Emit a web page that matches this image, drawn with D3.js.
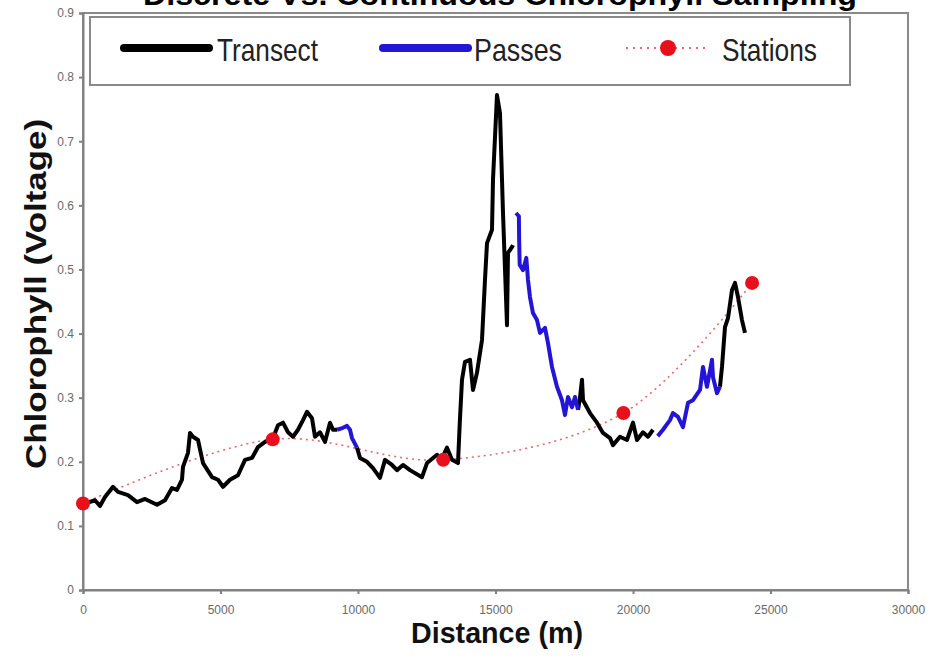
<!DOCTYPE html>
<html>
<head>
<meta charset="utf-8">
<script src="https://cdn.jsdelivr.net/npm/d3@7/dist/d3.min.js"></script>
<style>
  html, body { margin: 0; padding: 0; background: #fff; }
  svg { display: block; font-family: "Liberation Sans", Arial, sans-serif; }
  .tick text { fill: #6a6a6a; font-size: 12px; }
  .tick line, .domain { stroke: #808080; stroke-width: 2px; }
</style>
</head>
<body>
<div id="chart"></div>
<script>
// Chart data: distance (m), chlorophyll (voltage)
const xTicks = [0, 5000, 10000, 15000, 20000, 25000, 30000];
const yTicks = [0, 0.1, 0.2, 0.3, 0.4, 0.5, 0.6, 0.7, 0.8, 0.9];

const transectA = [
  [150, 0.136], [436, 0.140], [618, 0.131], [800, 0.145], [1091, 0.161], [1273, 0.153],
  [1636, 0.148], [1964, 0.137], [2254, 0.142], [2691, 0.133], [2982, 0.140], [3236, 0.159],
  [3418, 0.156], [3600, 0.172], [3636, 0.192], [3818, 0.214], [3891, 0.245], [4000, 0.239],
  [4182, 0.234], [4364, 0.198], [4691, 0.176], [4909, 0.172], [5091, 0.161], [5345, 0.172],
  [5636, 0.179], [5891, 0.203], [6145, 0.206], [6363, 0.223], [6618, 0.231], [6900, 0.236],
  [7091, 0.257], [7273, 0.261], [7454, 0.246], [7636, 0.239], [7818, 0.250], [8000, 0.265],
  [8145, 0.278], [8327, 0.268], [8436, 0.239], [8618, 0.246], [8800, 0.231], [8982, 0.261],
  [9091, 0.250], [9236, 0.250]
];
const passA = [
  [9236, 0.250], [9454, 0.253], [9600, 0.256], [9709, 0.250], [9782, 0.237], [9963, 0.222]
];
const transectB = [
  [9963, 0.222], [10073, 0.206], [10327, 0.200], [10545, 0.190], [10800, 0.175], [10982, 0.203],
  [11236, 0.195], [11418, 0.187], [11636, 0.195], [11891, 0.187], [12327, 0.176], [12509, 0.198],
  [12873, 0.211], [13050, 0.205], [13236, 0.222], [13418, 0.203], [13636, 0.198], [13700, 0.260],
  [13782, 0.328], [13891, 0.356], [14073, 0.359], [14182, 0.312], [14327, 0.339], [14509, 0.390],
  [14618, 0.484], [14691, 0.541], [14873, 0.562], [14909, 0.640], [15054, 0.772], [15163, 0.744],
  [15273, 0.588], [15418, 0.413], [15454, 0.526], [15600, 0.535], [15636, 0.538]
];
const passB = [
  [15745, 0.588], [15850, 0.583], [15860, 0.546], [15880, 0.507], [16000, 0.499], [16120, 0.518],
  [16181, 0.484], [16254, 0.457], [16363, 0.432], [16509, 0.421], [16618, 0.401], [16800, 0.409],
  [16909, 0.385], [17054, 0.348], [17236, 0.317], [17418, 0.296], [17527, 0.273], [17636, 0.301],
  [17782, 0.285], [17891, 0.301], [18000, 0.281]
];
const transectC = [
  [18000, 0.281], [18072, 0.300], [18145, 0.328], [18182, 0.296], [18436, 0.276], [18690, 0.261],
  [18909, 0.245], [19163, 0.237], [19272, 0.226], [19527, 0.239], [19781, 0.234], [20000, 0.261],
  [20145, 0.234], [20363, 0.246], [20545, 0.239], [20727, 0.250]
];
const passC = [
  [20900, 0.240], [21090, 0.250], [21345, 0.265], [21454, 0.276], [21636, 0.270], [21818, 0.254],
  [22000, 0.292], [22181, 0.296], [22436, 0.312], [22545, 0.348], [22690, 0.317], [22872, 0.359],
  [22909, 0.332], [23054, 0.307], [23163, 0.317]
];
const transectD = [
  [23163, 0.317], [23236, 0.348], [23345, 0.410], [23454, 0.424], [23600, 0.468], [23709, 0.479],
  [23818, 0.457], [23963, 0.421], [24072, 0.401]
];
const stations = [[0, 0.135], [6900, 0.235], [13100, 0.203], [19650, 0.276], [24330, 0.479]];

const legendItems = ['Transect', 'Passes', 'Stations'];

// Layout
const W = 934, H = 661;
const margin = { top: 13, right: 26, bottom: 71, left: 83 };
const innerW = W - margin.left - margin.right;
const innerH = H - margin.top - margin.bottom;

const svg = d3.select('#chart').append('svg')
  .attr('width', W)
  .attr('height', H);

const x = d3.scaleLinear().domain([0, 30000]).range([0, innerW]);
const y = d3.scaleLinear().domain([0, 0.9]).range([innerH, 0]);

// Title (runs off the top edge, like the original)
svg.append('text')
  .attr('x', 500).attr('y', 5)
  .attr('text-anchor', 'middle')
  .attr('font-weight', 'bold')
  .attr('font-size', 30)
  .attr('textLength', 714)
  .attr('lengthAdjust', 'spacingAndGlyphs')
  .text('Discrete Vs. Continuous Chlorophyll Sampling');

const g = svg.append('g').attr('transform', `translate(${margin.left},${margin.top})`);

// Frame
g.append('rect')
  .attr('width', innerW).attr('height', innerH)
  .attr('fill', 'none')
  .attr('stroke', '#8a8a8a')
  .attr('stroke-width', 2);

// Axes
g.append('g')
  .attr('transform', `translate(0,${innerH})`)
  .call(d3.axisBottom(x).tickValues(xTicks).tickSize(4).tickPadding(11).tickFormat(d3.format('d')));

g.append('g')
  .call(d3.axisLeft(y).tickValues(yTicks).tickSize(4).tickPadding(5).tickFormat(d => d === 0 ? '0' : d3.format('.1f')(d)));

// Axis titles
svg.append('text')
  .attr('x', 497).attr('y', 643)
  .attr('text-anchor', 'middle')
  .attr('font-weight', 'bold')
  .attr('font-size', 29)
  .attr('fill', '#111')
  .attr('textLength', 172)
  .attr('lengthAdjust', 'spacingAndGlyphs')
  .text('Distance (m)');

svg.append('text')
  .attr('transform', 'translate(46,294) rotate(-90)')
  .attr('text-anchor', 'middle')
  .attr('font-weight', 'bold')
  .attr('font-size', 30)
  .attr('fill', '#111')
  .attr('textLength', 350)
  .attr('lengthAdjust', 'spacingAndGlyphs')
  .text('Chlorophyll (Voltage)');

// Lines
const line = d3.line().x(d => x(d[0])).y(d => y(d[1]));
const stationLine = d3.line().x(d => x(d[0])).y(d => y(d[1])).curve(d3.curveCatmullRom.alpha(0.5));

g.append('path')
  .datum(stations)
  .attr('d', stationLine)
  .attr('fill', 'none')
  .attr('stroke', '#e26a74')
  .attr('stroke-width', 1.6)
  .attr('stroke-dasharray', '2,4');

[transectA, transectB, transectC, transectD].forEach(seg => {
  g.append('path')
    .datum(seg)
    .attr('d', line)
    .attr('fill', 'none')
    .attr('stroke', '#000')
    .attr('stroke-width', 4)
    .attr('stroke-linejoin', 'round');
});

[passA, passB, passC].forEach(seg => {
  g.append('path')
    .datum(seg)
    .attr('d', line)
    .attr('fill', 'none')
    .attr('stroke', '#2414d6')
    .attr('stroke-width', 4)
    .attr('stroke-linejoin', 'round');
});

g.selectAll('circle.station')
  .data(stations)
  .enter().append('circle')
  .attr('class', 'station')
  .attr('cx', d => x(d[0]))
  .attr('cy', d => y(d[1]))
  .attr('r', 7)
  .attr('fill', '#e8101c');

// Legend
const legend = svg.append('g');
legend.append('rect')
  .attr('x', 90).attr('y', 17)
  .attr('width', 760).attr('height', 68)
  .attr('fill', '#fff')
  .attr('stroke', '#8a8a8a')
  .attr('stroke-width', 2);

const ly = 48;
legend.append('line')
  .attr('x1', 124).attr('x2', 209).attr('y1', ly).attr('y2', ly)
  .attr('stroke', '#000').attr('stroke-width', 8).attr('stroke-linecap', 'round');
legend.append('line')
  .attr('x1', 383).attr('x2', 468).attr('y1', ly).attr('y2', ly)
  .attr('stroke', '#2414d6').attr('stroke-width', 8).attr('stroke-linecap', 'round');
legend.append('line')
  .attr('x1', 626).attr('x2', 710).attr('y1', ly).attr('y2', ly)
  .attr('stroke', '#e26a74').attr('stroke-width', 2).attr('stroke-dasharray', '2,5');
legend.append('circle')
  .attr('cx', 668).attr('cy', ly).attr('r', 8)
  .attr('fill', '#e8101c');

const legendPos = [[217, 101], [474, 88], [722, 95]];
legend.selectAll('text.item')
  .data(legendItems)
  .enter().append('text')
  .attr('class', 'item')
  .attr('x', (d, i) => legendPos[i][0])
  .attr('y', 61)
  .attr('font-size', 32)
  .attr('fill', '#222')
  .attr('textLength', (d, i) => legendPos[i][1])
  .attr('lengthAdjust', 'spacingAndGlyphs')
  .text(d => d);
</script>
</body>
</html>
